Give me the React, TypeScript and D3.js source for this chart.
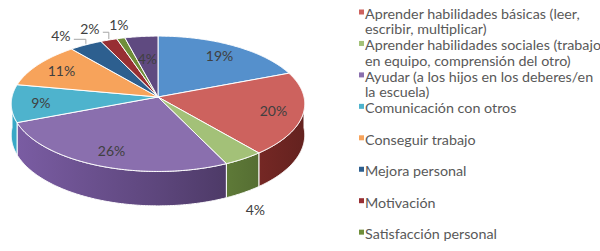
import React from "react";
import * as d3 from "d3";

const categories = [
  "Autoestima",
  "Aprender habilidades básicas (leer,\nescribir, multiplicar)",
  "Aprender habilidades sociales (trabajo\nen equipo, comprensión del otro)",
  "Ayudar (a los hijos en los deberes/en\nla escuela)",
  "Comunicación con otros",
  "Conseguir trabajo",
  "Mejora personal",
  "Motivación",
  "Satisfacción personal",
  "Otros",
];
const values = [19, 20, 4, 26, 9, 11, 4, 2, 1, 4];
const colors = [
  "#5590CC", "#CD625E", "#A3C178", "#8A6FAE", "#4EB3CD",
  "#F7A35B", "#2D5F8F", "#982F33", "#6F8E39", "#5F4A80",
];
const legendItems = [1, 2, 3, 4, 5, 6, 7, 8];
const outsideLabels = [2, 6, 7, 8];

const W = 600, H = 251;
const cx = 158, cy = 97, rx = 146, ry = 67, k = 0.1, depth = 31;

function P(theta: number, r: number, dz = 0): [number, number] {
  const X = r * Math.sin(theta);
  const Z = -r * Math.cos(theta);
  const p = 1 / (1 - k * Z);
  return [cx + rx * X * p, cy + ry * Z * p + dz * p];
}

function arcPts(a0: number, a1: number, r: number, dz = 0) {
  const n = Math.max(2, Math.ceil(Math.abs(a1 - a0) / 0.01));
  return d3.range(n + 1).map((i) => P(a0 + ((a1 - a0) * i) / n, r, dz));
}

function shade(c: string, f: number) {
  const h = d3.hsl(c);
  h.l = h.l * f;
  return h.toString();
}

export default function App() {
  const pie = d3.pie<number>().sort(null).value((d) => d)(values);
  const line = d3.line();
  const font = "Lato, 'Open Sans', sans-serif";
  const total = d3.sum(values);

  const walls = pie.map((s, i) => {
    const b0 = Math.max(s.startAngle, Math.PI / 2);
    const b1 = Math.min(s.endAngle, (3 * Math.PI) / 2);
    if (b1 <= b0) return null;
    const pts = [...arcPts(b0, b1, 1), ...arcPts(b1, b0, 1, depth)];
    return { i, d: line(pts) + "Z" };
  });

  const tops = pie.map((s, i) => {
    const pts = [[cx, cy] as [number, number], ...arcPts(s.startAngle, s.endAngle, 1)];
    return { i, d: line(pts) + "Z" };
  });

  type Lbl = { i: number; x: number; y: number; t: string; edge: [number, number] | null };
  const labels: Lbl[] = pie.map((s, i) => {
    const mid = (s.startAngle + s.endAngle) / 2;
    const pct = Math.round((values[i] / total) * 100) + "%";
    if (outsideLabels.includes(i)) {
      const front = Math.cos(mid) < 0;
      const edge = P(mid, 1, front ? depth : 0);
      if (front) {
        const dx = edge[0] - cx, dy = edge[1] - cy;
        const len = Math.hypot(dx, dy);
        return { i, x: edge[0] + (dx / len) * 18, y: edge[1] + (dy / len) * 22, t: pct, edge };
      }
      return { i, x: edge[0], y: edge[1], t: pct, edge };
    }
    const [x, y] = P(mid, i === 9 ? 0.62 : 0.8);
    return { i, x, y, t: pct, edge: null };
  });

  // back outside labels: place above their slices, pushing leftwards to avoid overlap
  const back = labels
    .filter((l) => outsideLabels.includes(l.i) && l.edge && l.edge[1] < cy)
    .sort((a, b) => b.edge![0] - a.edge![0]);
  let prevX = Infinity;
  back.forEach((l) => {
    const gap = 29;
    l.x = Math.min(l.edge![0] - 2, prevX - gap);
    prevX = l.x;
    const u = (l.x - cx) / (rx + 25);
    l.y = cy - (ry * 0.91 + 14) * Math.sqrt(Math.max(0, 1 - u * u));
  });

  const lx = 365, ly0 = 19, lstep = 31.45, lline = 15.3;

  return (
    <svg width={W} height={H} style={{ position: "absolute", left: 0, top: 0 }}>
      <defs>
        {pie.map((s, i) => (
          <linearGradient key={i} id={"wg" + i} gradientUnits="userSpaceOnUse" x1={cx - rx} x2={cx + rx} y1={0} y2={0}>
            <stop offset="0" stopColor={shade(colors[i], 0.9)} />
            <stop offset="0.5" stopColor={shade(colors[i], 0.68)} />
            <stop offset="1" stopColor={shade(colors[i], 0.44)} />
          </linearGradient>
        ))}
      </defs>
      <rect width={W} height={H} fill="#ffffff" />
      {walls.map((w) => w && (
        <path key={"w" + w.i} d={w.d} fill={`url(#wg${w.i})`} stroke="#ffffff" strokeWidth={1} strokeLinejoin="round" />
      ))}
      {tops.map((t) => (
        <path key={"t" + t.i} d={t.d} fill={colors[t.i]} stroke="#ffffff" strokeWidth={1} strokeLinejoin="round" />
      ))}
      {labels.map((l) => (
        <text key={"l" + l.i} x={l.x} y={l.y} textAnchor="middle" dominantBaseline="central"
          fontFamily={font} fontSize={14} fill="#404040">{l.t}</text>
      ))}
      {labels.filter((l) => l.edge && l.edge[1] < cy && l.edge[0] - l.x > 16).map((l) => {
        const [ex, ey] = l.edge!;
        return (
          <path key={"ld" + l.i} d={`M${ex},${ey - 1} L${ex},${l.y + 4} L${l.x + 13},${l.y + 4}`} fill="none" stroke="#a6a6a6" strokeWidth={1} />
        );
      })}
      {legendItems.map((ci, j) => {
        const y = ly0 + j * lstep;
        const lines = categories[ci].split("\n");
        return (
          <g key={"lg" + ci}>
            <rect x={359} y={y - 9.5} width={5} height={5} fill={colors[ci]} />
            {lines.map((t, m) => (
              <text key={m} x={lx} y={y + m * lline} fontFamily={font} fontSize={14.3} fill="#595959">{t}</text>
            ))}
          </g>
        );
      })}
    </svg>
  );
}
